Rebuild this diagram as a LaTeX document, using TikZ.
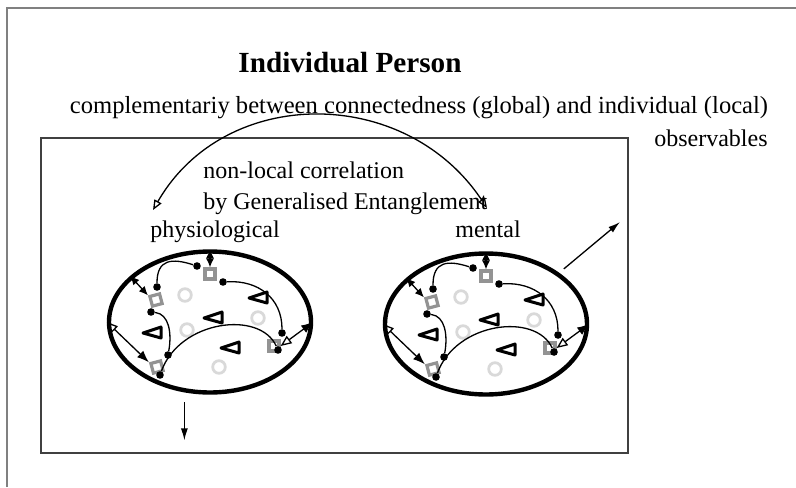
\documentclass[tikz,border=0pt]{standalone}
\usepackage{fontspec}
\setmainfont{Liberation Serif}
\usetikzlibrary{arrows.meta,shapes.geometric}

\tikzset{
  blob/.style={ellipse, draw, line width=2.2pt, minimum width=101pt, minimum height=70.5pt},
  dot/.style={circle, fill, inner sep=0pt, minimum size=3.8pt},
  sq/.style={draw=gray!85, line width=1.6pt, inner sep=0pt, minimum size=5pt},
  ring/.style={circle, draw=gray!30, line width=1.4pt, inner sep=0pt, minimum size=6.3pt},
  tri/.style={line width=1.5pt, line join=round},
  txt/.style={inner sep=0pt, font=\fontsize{12}{14}\selectfont},
  link/.style={line width=0.65pt},
  duo/.style={link, {Latex[length=4.5pt,width=4pt]}-{Latex[length=4.5pt,width=4pt]}},
  mix/.style={link, {Triangle[open,length=5.5pt,width=4.5pt]}-{Latex[length=6pt,width=4.5pt]}},
  hollow/.style={link, {Triangle[open,length=5pt,width=4pt]}-{Triangle[open,length=5pt,width=4pt]}},
  tip/.style={link, -{Latex[length=6pt,width=3.5pt]}}
}

\begin{document}
\begin{tikzpicture}[x=0.5pt,y=-0.5pt]
  \useasboundingbox (0,0) rectangle (796,487);

  % frames
  \draw[gray, line width=0.6pt] (7,487) -- (7,8) -- (796,8);
  \draw[black!75, line width=0.6pt] (41,138) rectangle (628,453);

  % texts
  \node[txt, anchor=base, font=\bfseries\fontsize{14.6}{17}\selectfont] (title) at (350,72) {Individual Person};
  \node[txt, anchor=base, font=\fontsize{12.3}{14}\selectfont] (compl) at (419,113) {complementariy between connectedness (global) and individual (local)};
  \node[txt, anchor=base east] (obs) at (768,146) {observables};
  \node[txt, anchor=base west] (nonloc) at (203,178) {non-local correlation};
  \node[txt, anchor=base west] (gen) at (203,209) {by Generalised Entanglement};
  \node[txt, anchor=base west] (phys) at (150,237) {physiological};
  \node[txt, anchor=base west] (ment) at (455,237) {mental};

  % the two bubbles
  \foreach \nm/\cx/\cy in {p/210/322, m/486/324}{
    \begin{scope}[shift={(\cx,\cy)}]
      \node[blob] (e\nm) at (0,0) {};
      \foreach \i/\dx/\dy in {1/-25/-27, 2/-23/8, 3/48/-4, 4/9/45}
        \node[ring] (r\i\nm) at (\dx,\dy) {};
      \foreach \i/\dx/\dy/\rot in {1/0/-48/0, 2/-54/-22/15, 3/64/24/0, 4/-53/45/15}
        \node[sq, rotate=\rot] (s\i\nm) at (\dx,\dy) {};
      \foreach \dx/\dy in {48/-24, 3/-4, -58/11, 20/26}
        \draw[tri, shift={(\dx,\dy)}] (-9,0) -- (9,-6) -- (9,5) -- cycle;
      \foreach \i/\dx/\dy in {1/-53/-35, 2/-13/-56, 3/13/-40, 4/72/11,
                              5/-59/-10, 6/-42/33, 7/-50/53, 8/68/28}
        \node[dot] (d\i\nm) at (\dx,\dy) {};

      % links between the dots
      \draw[link] (d1\nm) .. controls +(0,-28) and +(-25,-8) .. (d2\nm);
      \draw[link] (d3\nm) .. controls +(35,-2) and +(0,-35) .. (d4\nm);
      \draw[link] (d5\nm) .. controls +(18,2) and +(4,-22) .. (d6\nm);
      \draw[link] (d7\nm) .. controls +(20,-55) and +(-18,-40) .. (d8\nm);

      % arrows to the border
      \draw[duo] (e\nm.north) -- (s1\nm.north);
      \draw[duo] (e\nm.150) -- (s2\nm.north west);
      \draw[mix] (e\nm.west) -- (s4\nm.north west);
      \draw[mix] (s3\nm.east) -- (e\nm.east);
    \end{scope}
  }

  % entanglement arc
  \coordinate (arcL) at (153,210);
  \coordinate (arcR) at (487,208);
  \draw[hollow] (arcL) .. controls (225,85) and (405,85) .. (arcR);

  % outgoing arrows
  \coordinate (outR) at (620,222);
  \draw[tip, shorten <=3pt] (em.35) -- (outR);
  \draw[tip, shorten <=5pt] (ep.250) -- ++(0,48);
\end{tikzpicture}
\end{document}
